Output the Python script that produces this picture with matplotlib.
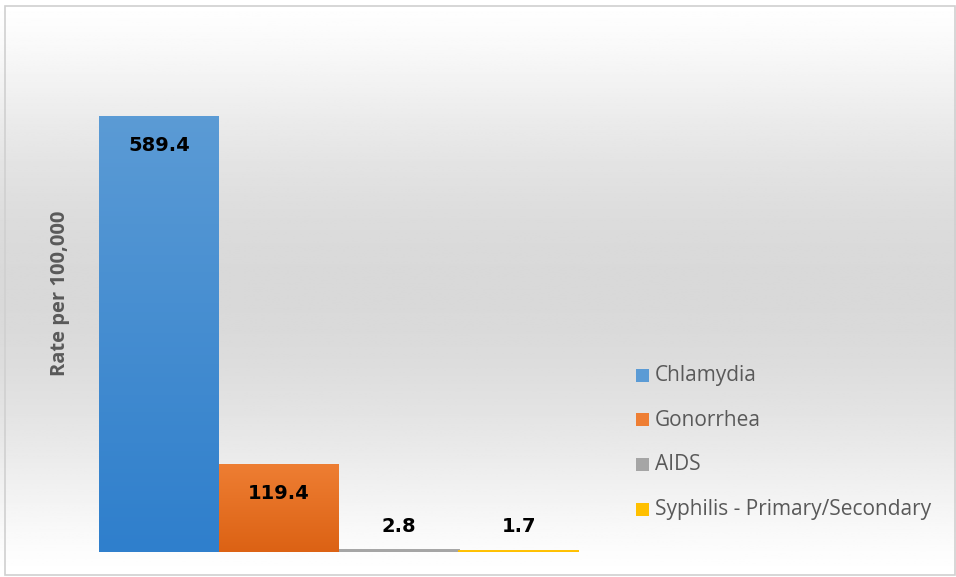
import matplotlib
matplotlib.use('Agg')
import matplotlib.pyplot as plt
import matplotlib.patches as patches
import numpy as np
from matplotlib.colors import LinearSegmentedColormap

# data
categories = ['Chlamydia', 'Gonorrhea', 'AIDS', 'Syphilis - Primary/Secondary']
rates = [589.4, 119.4, 2.8, 1.7]
value_labels = ['589.4', '119.4', '2.8', '1.7']

# gradient colours (top, bottom)
bar_colors = [('#5b9bd5', '#2f7fcc'), ('#ee7e33', '#dc6214'),
              ('#a5a5a5', '#979797'), ('#ffc000', '#e8ae00')]

W, H = 956, 577
fig = plt.figure(figsize=(W / 100, H / 100), dpi=100)

# background gradient
bg = fig.add_axes([0, 0, 1, 1], zorder=-10)
yy = np.linspace(0, 1, 300)
shade = 1.0 - 0.15 * np.sin(np.pi * yy) ** 1.3
bg.imshow(np.tile(shade[:, None], (1, 2)), cmap='gray', vmin=0, vmax=1,
          aspect='auto', extent=[0, 1, 0, 1], origin='upper')
bg.set_xlim(0, 1)
bg.set_ylim(0, 1)
bg.axis('off')

# border
fig.patches.append(patches.Rectangle((5 / W, 2 / H), 950 / W, (H - 8) / H,
                                     transform=fig.transFigure, fill=False,
                                     edgecolor='#d0d0d0', linewidth=1.2))

# main axes in pixel coords
left, right, bottom, top = 99, 579, 552, 34
ax = fig.add_axes([left / W, (H - bottom) / H, (right - left) / W, (bottom - top) / H])
ax.set_facecolor('none')
ax.set_xlim(-0.5, 3.5)
ymax = (bottom - top) / 0.74
ax.set_ylim(0, ymax)

x = np.arange(len(rates))
bars = ax.bar(x, rates, width=1.0, linewidth=0)
for b, (c_top, c_bot), name in zip(bars, bar_colors, categories):
    b.set_facecolor(c_top)
    b.set_label(name)
    x0, w, h = b.get_x(), b.get_width(), b.get_height()
    if h > 20:
        cmap = LinearSegmentedColormap.from_list('g', [c_top, c_bot])
        im = ax.imshow(np.linspace(0, 1, 100)[:, None], cmap=cmap, aspect='auto',
                       extent=[x0, x0 + w, 0, h], origin='upper', zorder=2)
        im.set_clip_path(b)
    else:
        # thin bars: keep them visible
        b.set_edgecolor(c_top)
        b.set_linewidth(1.4)

ax.set_xlim(-0.5, 3.5)
ax.set_ylim(0, ymax)

px = 0.72  # points per pixel
for xi, v, lab in zip(x, rates, value_labels):
    if v > 50:
        ax.annotate(lab, (xi, v), xytext=(0, -30 * px), textcoords='offset points',
                    ha='center', va='center', fontsize=14, fontweight='bold',
                    color='black', zorder=5)
    else:
        ax.annotate(lab, (xi, 0), xytext=(0, 25 * px), textcoords='offset points',
                    ha='center', va='center', fontsize=14, fontweight='bold',
                    color='black', zorder=5)

for s in ax.spines.values():
    s.set_visible(False)
ax.set_xticks([])
ax.set_yticks([])

fig.text(60 / W, 1 - 293 / H, 'Rate per 100,000', rotation=90, ha='center', va='center',
         fontsize=14.5, fontweight='bold', color='#595959', family='Open Sans')

# legend
leg_y = [376, 420, 465, 510]
for name, (c_top, c_bot), yl in zip(categories, bar_colors, leg_y):
    fig.patches.append(patches.Rectangle((636 / W, 1 - (yl + 6) / H), 13 / W, 13 / H,
                                         transform=fig.transFigure, facecolor=c_top,
                                         edgecolor='none'))
    fig.text(655 / W, 1 - yl / H, name, ha='left', va='center', fontsize=15,
             color='#595959', family='Open Sans')

fig.savefig('out.png', dpi=100)
